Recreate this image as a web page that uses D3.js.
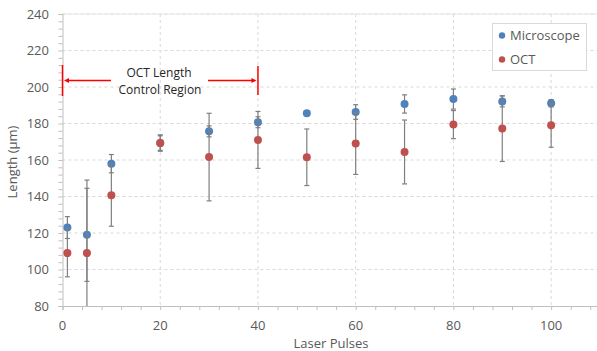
<!DOCTYPE html>
<html>
<head>
<meta charset="utf-8">
<script src="https://cdn.jsdelivr.net/npm/d3@7"></script>
<style>
  body { margin: 0; background: #fff; }
  svg { display: block; font-family: "Open Sans", sans-serif; }
</style>
</head>
<body>
<div id="chart"></div>
<script>
// data
const pulses = [1, 5, 10, 20, 30, 40, 50, 60, 70, 80, 90, 100];
const microscope = [123, 119, 158, 169.3, 175.7, 180.7, 185.6, 186.3, 190.7, 193.4, 192.1, 191.1];
const microscopeErr = [6, 25.5, 5, 4, 3, 3, 1, 4, 5, 5.5, 3, 2];
const oct = [109, 109, 140.7, 169.3, 161.6, 171, 161.5, 169.1, 164.4, 179.4, 177.2, 179];
const octErr = [13, 40, 17, 4.5, 24, 15.6, 15.5, 17, 17.5, 7.7, 18, 12];
const xTicks = [0, 20, 40, 60, 80, 100];
const yTicks = [80, 100, 120, 140, 160, 180, 200, 220, 240];

const width = 597, height = 351;
const svg = d3.select("#chart").append("svg")
    .attr("width", width).attr("height", height);

const x = d3.scaleLinear().domain([0, 110]).range([62.5, 600]);
const y = d3.scaleLinear().domain([80, 240]).range([306, 14]);

// clip for error bars that run past the axis
svg.append("clipPath").attr("id", "plot")
    .append("rect").attr("x", 62).attr("y", 14).attr("width", 540).attr("height", 292);

// gridlines
const grid = svg.append("g");
grid.selectAll(".hg").data(yTicks.filter(d => d > 80))
    .enter().append("line")
    .attr("x1", x(0)).attr("x2", width)
    .attr("y1", d => y(d)).attr("y2", d => y(d))
    .attr("stroke", "#d9d9d9").attr("stroke-dasharray", "3,3");
grid.selectAll(".vg").data(xTicks.filter(d => d > 0))
    .enter().append("line")
    .attr("x1", d => x(d)).attr("x2", d => x(d))
    .attr("y1", y(240)).attr("y2", y(80))
    .attr("stroke", "#d9d9d9").attr("stroke-dasharray", "3,3");
// top border
svg.append("line").attr("x1", x(0)).attr("x2", width)
    .attr("y1", y(240)).attr("y2", y(240)).attr("stroke", "#e6e6e6");

// axes
const xAxis = d3.axisBottom(x).tickValues(d3.range(0, 111, 4)).tickSize(4).tickFormat("");
const gx = svg.append("g").attr("transform", `translate(0,${y(80)})`).call(xAxis);
const yAxis = d3.axisLeft(y).tickValues(d3.range(80, 241, 4)).tickSize(4).tickFormat("");
const gy = svg.append("g").attr("transform", `translate(${x(0)},0)`).call(yAxis);
[gx, gy].forEach(g => {
    g.select(".domain").attr("stroke", "#bfbfbf");
    g.selectAll(".tick line").attr("stroke", "#bfbfbf");
});

svg.append("g").selectAll("text").data(xTicks).enter().append("text")
    .attr("x", d => x(d)).attr("y", 330)
    .attr("text-anchor", "middle").attr("font-size", 13).attr("fill", "#595959")
    .text(d => d);
svg.append("g").selectAll("text").data(yTicks).enter().append("text")
    .attr("x", 49).attr("y", d => y(d)).attr("dy", "0.35em")
    .attr("text-anchor", "end").attr("font-size", 13).attr("fill", "#595959")
    .text(d => d);

svg.append("text").attr("x", 331).attr("y", 348)
    .attr("text-anchor", "middle").attr("font-size", 13).attr("fill", "#595959")
    .text("Laser Pulses");
svg.append("text").attr("transform", "translate(17,162) rotate(-90)")
    .attr("text-anchor", "middle").attr("font-size", 13).attr("fill", "#595959")
    .text("Length (µm)");

// series
function drawSeries(vals, errs, color) {
    const rows = pulses.map((p, i) => ({ p, v: vals[i], e: errs[i] }));
    const eb = svg.append("g").attr("clip-path", "url(#plot)")
        .attr("stroke", "#7f7f7f").attr("stroke-width", 1.2);
    eb.selectAll(".bar").data(rows).enter().append("line")
        .attr("x1", d => x(d.p)).attr("x2", d => x(d.p))
        .attr("y1", d => y(d.v + d.e)).attr("y2", d => y(d.v - d.e));
    eb.selectAll(".capt").data(rows).enter().append("line")
        .attr("x1", d => x(d.p) - 2.5).attr("x2", d => x(d.p) + 2.5)
        .attr("y1", d => y(d.v + d.e)).attr("y2", d => y(d.v + d.e));
    eb.selectAll(".capb").data(rows).enter().append("line")
        .attr("x1", d => x(d.p) - 2.5).attr("x2", d => x(d.p) + 2.5)
        .attr("y1", d => y(d.v - d.e)).attr("y2", d => y(d.v - d.e));
    svg.append("g").selectAll("circle").data(rows).enter().append("circle")
        .attr("cx", d => x(d.p)).attr("cy", d => y(d.v))
        .attr("r", 4).attr("fill", color);
}
drawSeries(microscope, microscopeErr, "#4F81BD");
drawSeries(oct, octErr, "#C0504D");

// annotation
const ann = svg.append("g").attr("stroke", "#ff0000").attr("stroke-width", 1.5);
ann.append("line").attr("x1", x(0)).attr("x2", x(0)).attr("y1", 65).attr("y2", 96);
ann.append("line").attr("x1", x(40)).attr("x2", x(40)).attr("y1", 66).attr("y2", 95);
ann.append("line").attr("x1", 111).attr("x2", 67).attr("y1", 80.5).attr("y2", 80.5);
ann.append("line").attr("x1", 208).attr("x2", 253).attr("y1", 80.5).attr("y2", 80.5);
svg.append("path").attr("d", "M64,80.5 L69,78 L69,83 Z").attr("fill", "#ff0000");
svg.append("path").attr("d", `M${x(40) - 1.5},80.5 L${x(40) - 6.5},78 L${x(40) - 6.5},83 Z`).attr("fill", "#ff0000");
svg.append("text").attr("x", 159).attr("y", 77).attr("text-anchor", "middle")
    .attr("font-size", 12).attr("fill", "#262626").text("OCT Length");
svg.append("text").attr("x", 160).attr("y", 94).attr("text-anchor", "middle")
    .attr("font-size", 12).attr("fill", "#262626").text("Control Region");

// legend
const lg = svg.append("g");
lg.append("rect").attr("x", 492.5).attr("y", 23.5).attr("width", 94).attr("height", 47)
    .attr("fill", "#fff").attr("stroke", "#d9d9d9");
[["Microscope", "#4F81BD"], ["OCT", "#C0504D"]].forEach(([name, c], i) => {
    lg.append("circle").attr("cx", 502).attr("cy", 35.5 + i * 24).attr("r", 3.2).attr("fill", c);
    lg.append("text").attr("x", 510).attr("y", 35.5 + i * 24).attr("dy", "0.35em")
        .attr("font-size", 13).attr("fill", "#595959").text(name);
});
</script>
</body>
</html>
